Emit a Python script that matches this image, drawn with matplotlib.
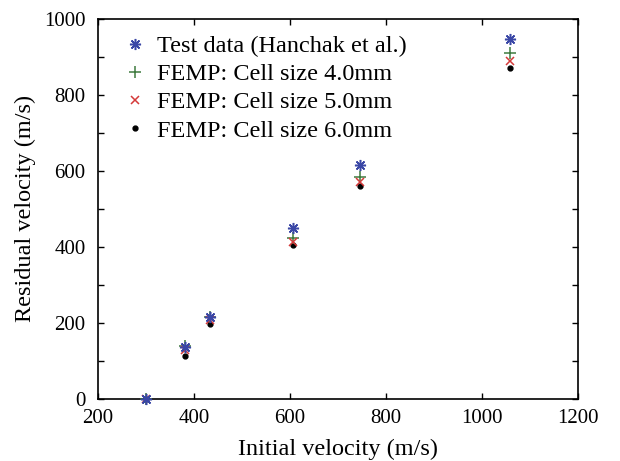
import matplotlib
matplotlib.use('Agg')
import matplotlib.pyplot as plt
from matplotlib.ticker import MultipleLocator

plt.rcParams['font.family'] = ['Liberation Serif', 'DejaVu Serif']

# ---------------------------------------------------------------- data
v_init = [301, 381, 434, 606, 746, 1058]
test_res = [0, 136, 214, 449, 615, 947]
cell4_res = [0, 140, 216, 424, 585, 910]
cell5_res = [0, 128, 207, 414, 571, 889]
cell6_res = [0, 113, 196, 405, 560, 871]

labels = ['Test data (Hanchak et al.)', 'FEMP: Cell size 4.0mm',
          'FEMP: Cell size 5.0mm', 'FEMP: Cell size 6.0mm']

BLUE, GREEN, RED, BLACK = '#3a47a6', '#3f7a3f', '#d43a3a', '#000000'

fig = plt.figure(figsize=(6.2, 4.61), dpi=100)
ax = fig.add_axes([0.158, 0.135, 0.774, 0.824])

ax.plot(v_init, test_res, ls='none', marker=(8, 2, 0), ms=8, mew=1.1,
        color=BLUE, label=labels[0], clip_on=False, zorder=5)
ax.plot(v_init, cell4_res, ls='none', marker='+', ms=8, mew=1.1,
        color=GREEN, label=labels[1], clip_on=False, zorder=4)
ax.plot(v_init, cell5_res, ls='none', marker='x', ms=6, mew=1.1,
        color=RED, label=labels[2], clip_on=False, zorder=4)
ax.plot(v_init, cell6_res, ls='none', marker='o', ms=3.5,
        color=BLACK, label=labels[3], clip_on=False, zorder=3)

ax.set_xlim(200, 1200)
ax.set_ylim(0, 1000)
ax.xaxis.set_major_locator(MultipleLocator(200))
ax.yaxis.set_major_locator(MultipleLocator(200))
ax.yaxis.set_minor_locator(MultipleLocator(100))
ax.tick_params(which='both', direction='in', top=True, right=True,
               length=4, width=1, labelsize=15)
ax.tick_params(axis='x', pad=7.5)
ax.tick_params(axis='y', pad=9)
for s in ax.spines.values():
    s.set_linewidth(1.2)

ax.set_xlabel('Initial velocity (m/s)', fontsize=17.5, labelpad=8)
ax.set_ylabel('Residual velocity (m/s)', fontsize=17.5, labelpad=6)

ax.legend(loc='upper left', bbox_to_anchor=(0.052, 0.957), frameon=False,
          fontsize=17.5, handlelength=1.0, handletextpad=0.4,
          labelspacing=0.25, borderaxespad=0, borderpad=0)

fig.savefig('out.png', dpi=100)
